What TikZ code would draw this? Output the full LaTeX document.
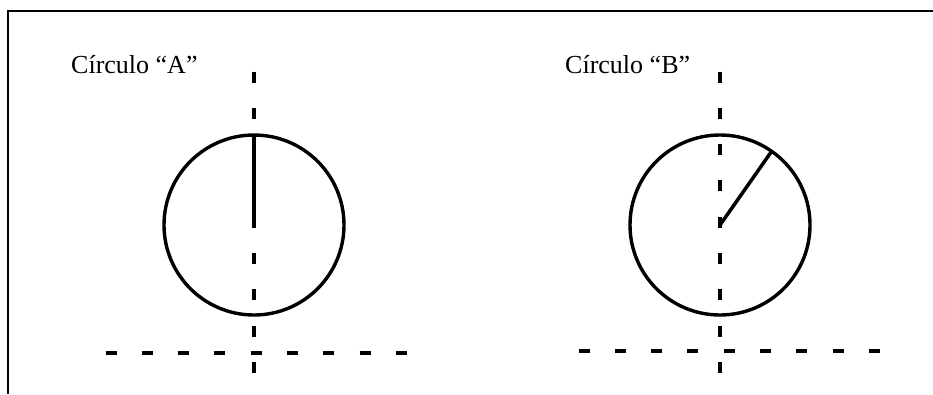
\documentclass[tikz,border=0pt]{standalone}
\usepackage{fontspec}
\setmainfont{Liberation Serif}
\tikzset{
  ring/.style={circle,draw,line width=3.4pt,minimum size=180pt,inner sep=0pt,outer sep=0pt},
  axisdash/.style={line width=4.5pt,dash pattern=on 11pt off 25.3pt},
  radius/.style={line width=3.5pt},
  caption/.style={anchor=base west,inner sep=0pt,font=\fontsize{26}{30}\selectfont}
}
\begin{document}
\begin{tikzpicture}[x=1pt,y=-1pt]
        \useasboundingbox (0,0) rectangle (933,394);
        % frame
        \draw[line width=1.8pt] (933,11) -- (8,11) -- (8,394);
        % circle A
        \node[caption] (capA) at (71,73.3) {Círculo “A”};
        \draw[axisdash] (254,71.5) -- (254,373.5);
        \draw[axisdash] (105.5,353) -- (407.5,353);
        \node[ring] (circA) at (254,225) {};
        \draw[radius] (circA.center) -- (circA.north);
        % circle B
        \node[caption] (capB) at (565,73.3) {Círculo “B”};
        \draw[axisdash] (720,71.5) -- (720,373.5);
        \draw[axisdash] (578.5,351) -- (880.5,351);
        \node[ring] (circB) at (720,225) {};
        \draw[radius] (circB.center) -- (circB.55);
\end{tikzpicture}
\end{document}
